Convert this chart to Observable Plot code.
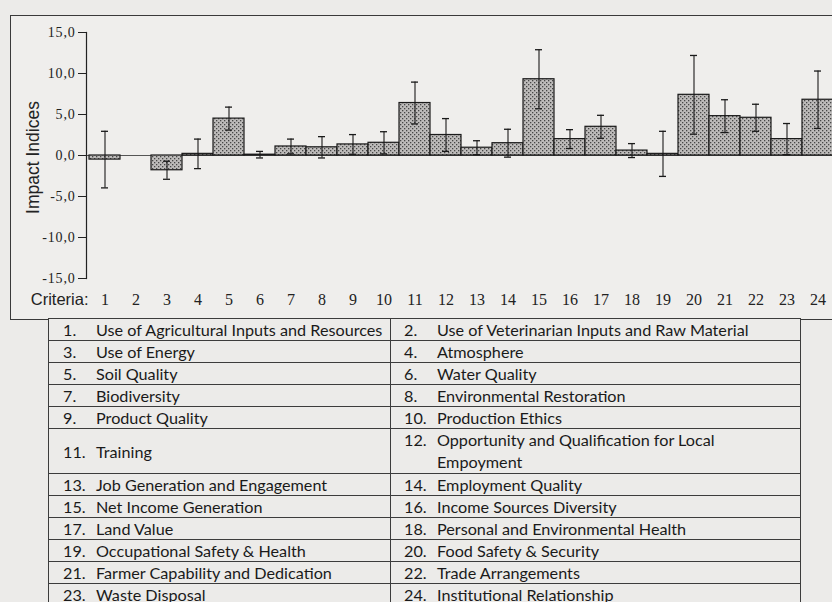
<!DOCTYPE html>
<html>
<head>
<meta charset="utf-8">
<script src="https://cdn.jsdelivr.net/npm/d3@7"></script>
<script src="https://cdn.jsdelivr.net/npm/@observablehq/plot@0.6"></script>
<style>
  html, body { margin: 0; padding: 0; width: 832px; height: 602px; overflow: hidden; background: #ecebe9; }
  #wrap { position: relative; width: 832px; height: 602px; }
  #box { position: absolute; left: 10px; top: 15px; width: 840px; height: 305px; border: 1.5px solid #3a3a3a; box-sizing: border-box; background: #efeeec; }
  #chart { position: absolute; left: 0; top: 0; }
  #chart g[aria-label="y-axis tick label"] text { letter-spacing: 0.8px; }
  table { position: absolute; left: 48px; top: 318px; width: 752px; border-collapse: collapse; table-layout: fixed;
          font-family: Lato, "Noto Sans", sans-serif; font-size: 16.2px; color: #1a1a1a; background: #ecebe9; }
  td { border: 1px solid #3c3c3c; height: 21px; padding: 0 0 0 14px; vertical-align: middle; line-height: 21px; white-space: nowrap; overflow: hidden; }
  td.c2 { padding-left: 13px; }
  .n { display: inline-block; width: 33px; }
  .t { display: inline-block; vertical-align: top; }
  .t.multi { line-height: 22px; }
</style>
</head>
<body>
<div id="wrap">
  <div id="box"></div>
  <div id="chart"></div>
  <table id="legend"><colgroup><col style="width:342px"><col style="width:410px"></colgroup><tbody></tbody></table>
</div>
<script>
// Data
const criteria = [1,2,3,4,5,6,7,8,9,10,11,12,13,14,15,16,17,18,19,20,21,22,23,24];
const impact   = [-0.5, 0, -1.8, 0.2, 4.5, 0.1, 1.1, 1.0, 1.35, 1.55, 6.4, 2.5, 0.95, 1.5, 9.3, 2.0, 3.5, 0.6, 0.2, 7.4, 4.8, 4.6, 2.0, 6.8];
const errorBar = [3.45, null, 1.1, 1.8, 1.4, 0.4, 0.9, 1.3, 1.2, 1.35, 2.55, 2.0, 0.85, 1.7, 3.6, 1.15, 1.4, 0.85, 2.75, 4.8, 2.0, 1.65, 1.9, 3.5];
const yTicks = [-15, -10, -5, 0, 5, 10, 15];
const criteriaNames = [
  "Use of Agricultural Inputs and Resources",
  "Use of Veterinarian Inputs and Raw Material",
  "Use of Energy",
  "Atmosphere",
  "Soil Quality",
  "Water Quality",
  "Biodiversity",
  "Environmental Restoration",
  "Product Quality",
  "Production Ethics",
  "Training",
  "Opportunity and Qualification for Local\nEmpoyment",
  "Job Generation and Engagement",
  "Employment Quality",
  "Net Income Generation",
  "Income Sources Diversity",
  "Land Value",
  "Personal and Environmental Health",
  "Occupational Safety & Health",
  "Food Safety & Security",
  "Farmer Capability and Dedication",
  "Trade Arrangements",
  "Waste Disposal",
  "Institutional Relationship"
];

const rows = criteria.map((c, i) => ({
  c: String(c),
  v: impact[i],
  lo: errorBar[i] == null ? NaN : impact[i] - errorBar[i],
  hi: errorBar[i] == null ? NaN : impact[i] + errorBar[i]
}));
const withErr = rows.filter(d => !isNaN(d.lo));

const svg = Plot.plot({
  width: 850,
  height: 322,
  marginLeft: 86,
  marginRight: 15,
  marginTop: 32,
  marginBottom: 44,
  style: { background: "transparent", maxWidth: "none", overflow: "visible" },
  x: { type: "band", domain: criteria.map(String), padding: 0 },
  y: { domain: [-15, 15] },
  marks: [
    Plot.ruleY([0], { stroke: "#555", strokeWidth: 1 }),
    Plot.barY(rows, { x: "c", y: "v", fill: "url(#dots)", stroke: "#1a1a1a", strokeWidth: 1.2 }),
    Plot.ruleX(withErr, { x: "c", y1: "lo", y2: "hi", stroke: "#1a1a1a", strokeWidth: 1.1 }),
    Plot.tickY(withErr, { x: "c", y: "lo", stroke: "#1a1a1a", strokeWidth: 1.3, insetLeft: 12, insetRight: 12 }),
    Plot.tickY(withErr, { x: "c", y: "hi", stroke: "#1a1a1a", strokeWidth: 1.3, insetLeft: 12, insetRight: 12 }),
    Plot.frame({ anchor: "left", stroke: "#222", strokeWidth: 1.2 }),
    Plot.axisY({ ticks: yTicks, tickFormat: d => d.toFixed(1).replace(".", ","), tickSize: 8, tickPadding: 3,
                 label: null, fontFamily: "Liberation Serif, serif", fontSize: 14, stroke: "#222", color: "#222" }),
    Plot.axisX({ tickSize: 0, tickPadding: 15, label: null, fontFamily: "Liberation Serif, serif", fontSize: 16, color: "#222" }),
    Plot.text(["Impact Indices"], { frameAnchor: "left", textAnchor: "middle", rotate: -90, dx: -53, dy: 2, fontFamily: "Liberation Sans, Arial, sans-serif", fontSize: 17.5, fill: "#222" }),
    Plot.text(["Criteria:"], { frameAnchor: "bottom-left", textAnchor: "end", dx: 2, dy: 26, fontFamily: "Liberation Sans, Arial, sans-serif", fontSize: 16.5, fill: "#222" })
  ]
});

// pattern definition for the dotted bar fill
const ns = "http://www.w3.org/2000/svg";
const defs = document.createElementNS(ns, "defs");
const pat = document.createElementNS(ns, "pattern");
pat.setAttribute("id", "dots");
pat.setAttribute("patternUnits", "userSpaceOnUse");
pat.setAttribute("width", "4");
pat.setAttribute("height", "4");
const bg = document.createElementNS(ns, "rect");
bg.setAttribute("width", "4"); bg.setAttribute("height", "4"); bg.setAttribute("fill", "#bdbbba");
pat.appendChild(bg);
[[0, 0], [2, 2]].forEach(([px, py]) => {
  const r = document.createElementNS(ns, "rect");
  r.setAttribute("x", px); r.setAttribute("y", py);
  r.setAttribute("width", "1.3"); r.setAttribute("height", "1.3"); r.setAttribute("fill", "#474747");
  pat.appendChild(r);
});
defs.appendChild(pat);
svg.insertBefore(defs, svg.firstChild);
document.getElementById("chart").appendChild(svg);

// legend table
const tbody = document.querySelector("#legend tbody");
for (let i = 0; i < criteria.length; i += 2) {
  const tr = document.createElement("tr");
  [i, i + 1].forEach((k, j) => {
    const td = document.createElement("td");
    if (j === 1) td.className = "c2";
    const n = document.createElement("span");
    n.className = "n";
    n.textContent = criteria[k] + ".";
    const t = document.createElement("span");
    t.className = "t";
    const parts = criteriaNames[k].split("\n");
    if (parts.length > 1) t.classList.add("multi");
    parts.forEach((p, pi) => {
      if (pi) t.appendChild(document.createElement("br"));
      t.appendChild(document.createTextNode(p));
    });
    td.appendChild(n);
    td.appendChild(t);
    tr.appendChild(td);
  });
  tbody.appendChild(tr);
}
</script>
</body>
</html>
